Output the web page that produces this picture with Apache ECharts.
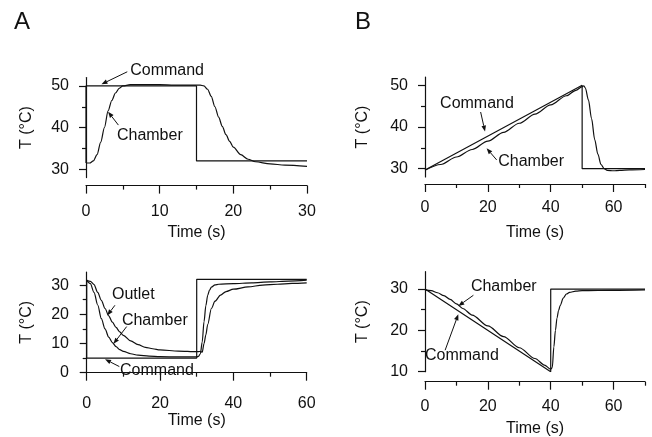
<!DOCTYPE html>
<html>
<head>
<meta charset="utf-8">
<title></title>
<script src="https://cdn.jsdelivr.net/npm/echarts@6/dist/echarts.min.js"></script>
<style>
  html, body { margin: 0; padding: 0; background: #fff; }
  #chart_box { width: 652px; height: 437px; }
</style>
</head>
<body>
<div id="chart_box"></div>
<script>
// ---- A, top: step 32 -> 50 -> 32 ----
var aTopCmdT = [0, 0, 15, 15, 30];
var aTopCmdV = [31.5, 50, 50, 32, 32];
var aTopChT = [0, 0.5, 1, 1.5, 2, 2.5, 3, 3.5, 4, 4.5, 5, 6, 8, 10, 12, 15, 15.5, 16, 16.5, 17, 17.5, 18, 18.5, 19, 19.5, 20, 21, 22, 23, 25, 27, 30];
var aTopChV = [31.5, 31.5, 32, 33.5, 36.5, 40, 44, 46.5, 48.3, 49.4, 50, 50.3, 50.3, 50.3, 50.2, 50.2, 50.2, 50, 49.2, 47.5, 45, 42.5, 40.3, 38.3, 36.7, 35.3, 33.5, 32.4, 31.8, 31.3, 31, 30.7];

// ---- B, top: ramp 30 -> 50 ----
var bTopCmdT = [0, 50, 50, 70];
var bTopCmdV = [29.7, 50, 30, 30];
var bTopChT = [0, 5, 10, 15, 20, 25, 30, 35, 40, 45, 48, 50, 50.5, 51, 52, 53, 54, 55, 56, 57, 58, 60, 62, 65, 70];
var bTopChV = [29.6, 31, 32.8, 34.6, 36.6, 38.7, 40.9, 43.1, 45.3, 47.5, 48.8, 49.7, 49.9, 49.4, 46.5, 42, 37, 33.5, 31, 30, 29.6, 29.5, 29.6, 29.7, 29.8];

// ---- A, bottom: step 32 -> 5 -> 32 ----
var aBotCmdT = [0, 0, 30, 30, 60];
var aBotCmdV = [31.7, 5, 5, 32, 32];
var aBotChT = [0, 1, 2, 3, 4, 5, 6, 7, 8, 9, 10, 12, 14, 17, 20, 25, 30, 30.5, 31, 31.5, 32, 32.5, 33, 33.5, 34, 35, 36, 40, 45, 50, 55, 60];
var aBotChV = [31.7, 30.5, 27.5, 23.2, 18.5, 15, 12.2, 10.3, 8.9, 7.9, 7.3, 6.5, 6, 5.7, 5.5, 5.4, 5.4, 5.6, 6.5, 10.5, 17.5, 23, 26.5, 28.3, 29.3, 30.1, 30.3, 30.5, 30.8, 31.1, 31.4, 31.7];
var aBotOutT = [0, 1, 2, 3, 4, 5, 6, 7, 8, 9, 10, 12, 14, 16, 18, 20, 25, 30, 30.5, 31, 31.5, 32, 32.5, 33, 34, 35, 36.5, 38, 40, 44, 48, 52, 56, 60];
var aBotOutV = [31.7, 31.3, 30.2, 27.5, 24.8, 22, 19.5, 17.3, 15.5, 14, 12.8, 10.9, 9.6, 8.7, 8.2, 7.8, 7.4, 7.2, 7.2, 7.3, 7.0, 10, 13, 16.5, 22, 24.5, 26.6, 27.8, 28.6, 29.4, 30, 30.3, 30.6, 30.8];

// ---- B, bottom: ramp 30 -> 10 ----
var bBotCmdT = [0, 40, 40, 70];
var bBotCmdV = [30, 10, 30, 30];
var bBotChT = [0, 2, 4, 6, 8, 10, 12, 15, 20, 25, 30, 35, 38, 40, 40.5, 41, 41.5, 42, 42.5, 43, 44, 45, 46, 48, 50, 60, 70];
var bBotChV = [29.8, 29.6, 29.1, 28.4, 27.5, 26.4, 25.3, 23.7, 21.1, 18.5, 15.8, 13.2, 11.6, 10.6, 11, 16, 20, 23, 24.8, 26, 27.8, 28.8, 29.2, 29.5, 29.6, 29.7, 29.8];

// tick values
var aTopXMajor = [0, 10, 20, 30], aTopXMinor = [5, 15, 25];
var aTopYMajor = [30, 40, 50], aTopYMinor = [35, 45];
var bTopXMajor = [0, 20, 40, 60], bTopXMinor = [10, 30, 50, 70];
var bTopYMajor = [30, 40, 50], bTopYMinor = [35, 45];
var aBotXMajor = [0, 20, 40, 60], aBotXMinor = [10, 30, 50];
var aBotYMajor = [0, 10, 20, 30], aBotYMinor = [5, 15, 25];
var bBotXMajor = [0, 20, 40, 60], bBotXMinor = [10, 30, 50, 70];
var bBotYMajor = [10, 20, 30], bBotYMinor = [15, 25];

// annotations: text at (x,y) left-middle, arrow from -> to (data units)
var notes = [
    { p: 0, text: 'Command', at: [6.0, 53.8], from: [5.6, 53.4], to: [2.1, 50.4] },
    { p: 0, text: 'Chamber', at: [4.2, 38], from: [4.4, 40.6], to: [3.0, 43.8] },
    { p: 1, text: 'Command', at: [4.8, 45.7], from: [17.7, 43.6], to: [19.1, 38.9] },
    { p: 1, text: 'Chamber', at: [23.3, 31.7], from: [22.8, 32.1], to: [19.6, 34.9] },
    { p: 2, text: 'Outlet', at: [6.9, 26.9], from: [7.7, 23.1], to: [5.6, 19.6] },
    { p: 2, text: 'Chamber', at: [9.6, 18], from: [10.9, 15.8], to: [7.3, 9.9] },
    { p: 2, text: 'Command', at: [9.1, 0.7], from: [8.9, 2.1], to: [5.0, 4.6] },
    { p: 3, text: 'Chamber', at: [14.6, 30.7], from: [15.4, 28.5], to: [10.6, 25.9] },
    { p: 3, text: 'Command', at: [0, 13.8], from: [6.4, 15.2], to: [10.6, 23.9] }
];

var FONT = '"Liberation Sans", Arial, sans-serif';
var INK = '#111';

var panels = [
    { left: 86, top: 77.6, width: 221, height: 100, xMax: 30, yMin: 28, yMax: 52,
      xMajor: aTopXMajor, xMinor: aTopXMinor, yMajor: aTopYMajor, yMinor: aTopYMinor,
      xOff: 8, yOff: 8, lblMargin: 18, nameGap: 39, yNameGap: 43 },
    { left: 425, top: 77, width: 220, height: 100, xMax: 70, yMin: 28, yMax: 52,
      xMajor: bTopXMajor, xMinor: bTopXMinor, yMajor: bTopYMajor, yMinor: bTopYMinor,
      xOff: 7, yOff: 8, lblMargin: 16, nameGap: 41, yNameGap: 46 },
    { left: 86.7, top: 272, width: 220, height: 100.7, xMax: 60, yMin: 0, yMax: 34.5,
      xMajor: aBotXMajor, xMinor: aBotXMinor, yMajor: aBotYMajor, yMinor: aBotYMinor,
      xOff: 9.6, yOff: 8.7, lblMargin: 13, nameGap: 28, yNameGap: 43 },
    { left: 425, top: 271.7, width: 220, height: 100, xMax: 70, yMin: 10, yMax: 34.2,
      xMajor: bBotXMajor, xMinor: bBotXMinor, yMajor: bBotYMajor, yMinor: bBotYMinor,
      xOff: 10, yOff: 8, lblMargin: 17, nameGap: 39, yNameGap: 46 }
];

function zip(t, v) {
    return t.map(function (x, i) { return [x, v[i]]; });
}

var grids = [], xAxes = [], yAxes = [];
panels.forEach(function (p, g) {
    grids.push({ left: p.left, top: p.top, width: p.width, height: p.height,
                 containLabel: false, outerBoundsMode: 'none' });
    var line = { color: INK, width: 1.2 };
    xAxes.push({
        gridIndex: g, type: 'value', min: 0, max: p.xMax, position: 'bottom', offset: p.xOff,
        axisLine: { show: true, lineStyle: line },
        axisTick: { show: true, customValues: p.xMajor, length: 8, lineStyle: line },
        axisLabel: { customValues: p.xMajor, margin: p.lblMargin, fontSize: 16, color: INK, fontFamily: FONT },
        splitLine: { show: false },
        name: 'Time (s)', nameLocation: 'middle', nameGap: p.nameGap,
        nameTextStyle: { fontSize: 16, color: INK, fontFamily: FONT }
    });
    xAxes.push({
        gridIndex: g, type: 'value', min: 0, max: p.xMax, position: 'bottom', offset: p.xOff,
        axisLine: { show: false },
        axisTick: { show: true, customValues: p.xMinor, length: 4, lineStyle: line },
        axisLabel: { show: false },
        splitLine: { show: false }
    });
    yAxes.push({
        gridIndex: g, type: 'value', min: p.yMin, max: p.yMax, position: 'left', offset: p.yOff,
        axisLine: { show: true, lineStyle: line },
        axisTick: { show: true, customValues: p.yMajor, length: 7, lineStyle: line },
        axisLabel: { customValues: p.yMajor, margin: 9, fontSize: 16, color: INK, fontFamily: FONT },
        splitLine: { show: false },
        name: 'T (°C)', nameLocation: 'middle', nameGap: p.yNameGap,
        nameTextStyle: { fontSize: 16, color: INK, fontFamily: FONT }
    });
    yAxes.push({
        gridIndex: g, type: 'value', min: p.yMin, max: p.yMax, position: 'left', offset: p.yOff,
        axisLine: { show: false },
        axisTick: { show: true, customValues: p.yMinor, length: 4, lineStyle: line },
        axisLabel: { show: false },
        splitLine: { show: false }
    });
});

function curve(g, t, v, smooth) {
    return {
        type: 'line', xAxisIndex: 2 * g, yAxisIndex: 2 * g,
        data: zip(t, v), showSymbol: false, symbol: 'none',
        smooth: smooth ? 0.3 : false, smoothMonotone: smooth ? 'x' : undefined,
        lineStyle: { color: INK, width: 1.2 }, silent: true
    };
}

var series = [
    curve(0, aTopCmdT, aTopCmdV, false),
    curve(0, aTopChT, aTopChV, true),
    curve(1, bTopCmdT, bTopCmdV, false),
    curve(1, bTopChT, bTopChV, true),
    curve(2, aBotCmdT, aBotCmdV, false),
    curve(2, aBotChT, aBotChV, true),
    curve(2, aBotOutT, aBotOutV, true),
    curve(3, bBotCmdT, bBotCmdV, false),
    curve(3, bBotChT, bBotChV, true)
];

var chart = echarts.init(document.getElementById('chart_box'));
chart.setOption({
    backgroundColor: '#fff',
    animation: false,
    grid: grids,
    xAxis: xAxes,
    yAxis: yAxes,
    series: series
});

// annotations placed through the axes
var graphics = [
    { type: 'text', x: 14, y: 22, style: { text: 'A', font: '24px ' + FONT, fill: INK, verticalAlign: 'middle' } },
    { type: 'text', x: 355, y: 22, style: { text: 'B', font: '24px ' + FONT, fill: INK, verticalAlign: 'middle' } }
];
notes.forEach(function (n) {
    var finder = { xAxisIndex: 2 * n.p, yAxisIndex: 2 * n.p };
    var at = chart.convertToPixel(finder, n.at);
    var a = chart.convertToPixel(finder, n.from);
    var b = chart.convertToPixel(finder, n.to);
    graphics.push({ type: 'text', x: at[0], y: at[1],
        style: { text: n.text, font: '16px ' + FONT, fill: INK, verticalAlign: 'middle', align: 'left' } });
    var dx = b[0] - a[0], dy = b[1] - a[1];
    var len = Math.sqrt(dx * dx + dy * dy);
    var ux = dx / len, uy = dy / len;
    var bx = b[0] - ux * 6, by = b[1] - uy * 6;
    graphics.push({ type: 'line', shape: { x1: a[0], y1: a[1], x2: bx, y2: by },
        style: { stroke: INK, lineWidth: 1 } });
    graphics.push({ type: 'polygon',
        shape: { points: [[b[0], b[1]], [bx - uy * 2.3, by + ux * 2.3], [bx + uy * 2.3, by - ux * 2.3]] },
        style: { fill: INK } });
});
chart.setOption({ graphic: graphics });
</script>
</body>
</html>
